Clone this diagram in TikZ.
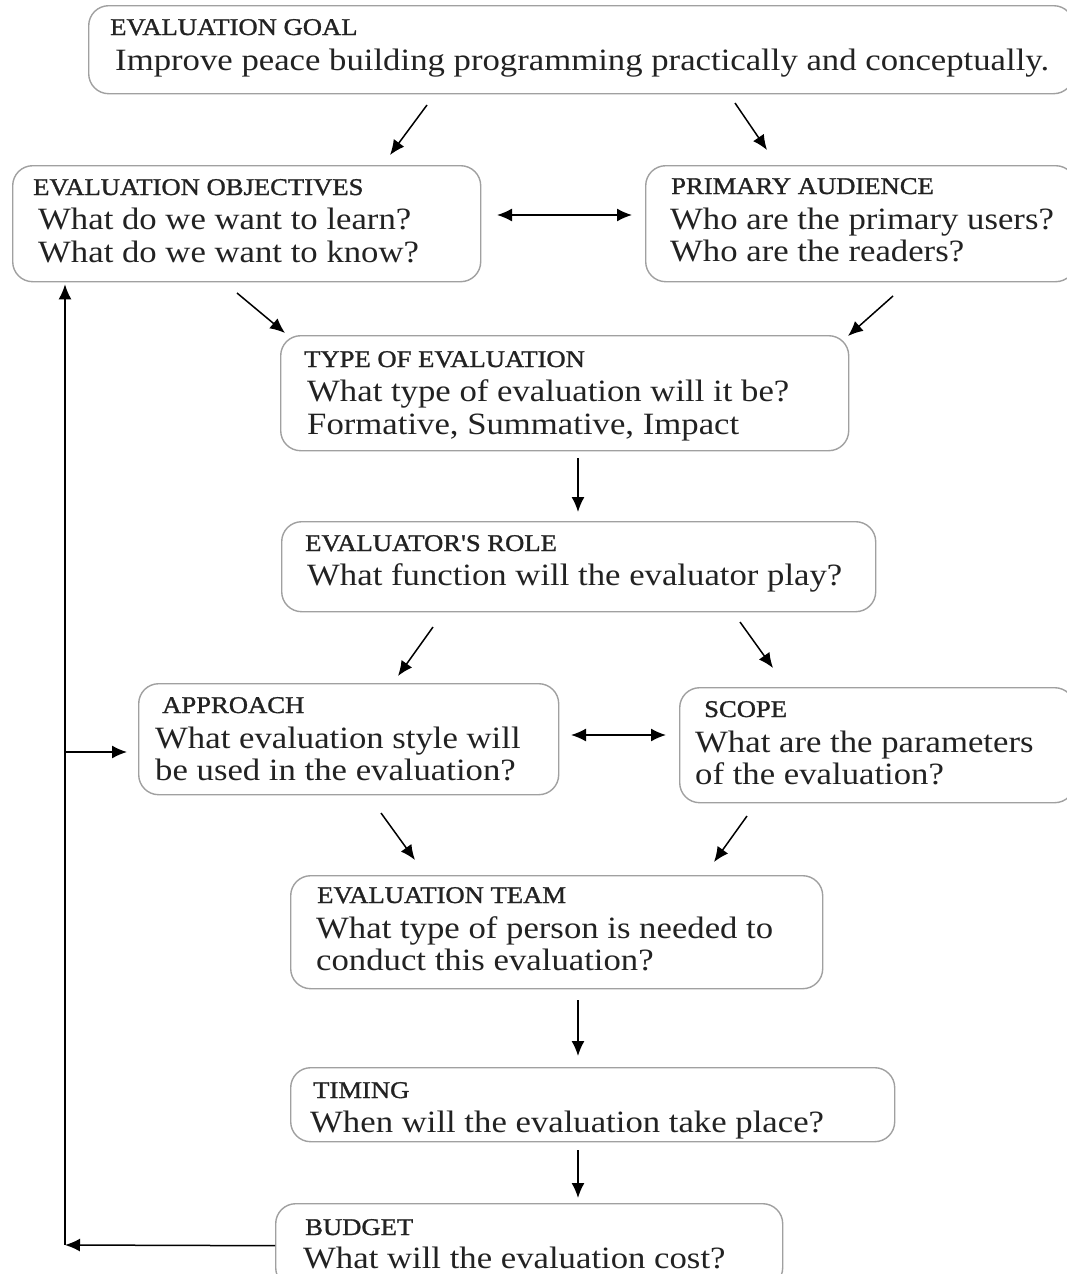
\documentclass[tikz,border=0pt]{standalone}
\usepackage{fontspec}
\setmainfont{Liberation Serif}[FakeStretch=1.12]
\newfontfamily\headfont{Liberation Serif}[FakeStretch=1.11,FakeBold=1.2]
\usetikzlibrary{arrows.meta}
\definecolor{framegray}{HTML}{A0A0A0}
\definecolor{inkgray}{HTML}{222222}
\tikzset{
  box/.style={draw=framegray, line width=1.4pt, rounded corners=20pt,
              anchor=north west, inner sep=0pt, fill=white},
  ttl/.style={anchor=base west, inner sep=0pt, text=inkgray,
              font=\headfont\fontsize{24}{28}\selectfont},
  txt/.style={anchor=base west, inner sep=0pt, text=inkgray,
              font=\fontsize{31}{36}\selectfont},
  arr/.style={line width=1.5pt, -{Latex[length=15pt,width=13pt]}},
  darr/.style={line width=1.5pt, {Latex[length=15pt,width=13pt]}-{Latex[length=15pt,width=13pt]}},
}
\begin{document}
\begin{tikzpicture}[x=1pt,y=-1pt]
\useasboundingbox (0,0) rectangle (1066,1274);

% ---- boxes ----
\node[box, minimum width=985pt, minimum height=88pt]  (goal)   at (88,5)    {};
\node[box, minimum width=468pt, minimum height=116pt] (obj)    at (12,165)  {};
\node[box, minimum width=430pt, minimum height=116pt] (aud)    at (645,165) {};
\node[box, minimum width=568pt, minimum height=115pt] (type)   at (280,335) {};
\node[box, minimum width=594pt, minimum height=90pt]  (role)   at (281,521) {};
\node[box, minimum width=420pt, minimum height=111pt] (app)    at (138,683) {};
\node[box, minimum width=395pt, minimum height=115pt] (scope)  at (679,687) {};
\node[box, minimum width=532pt, minimum height=113pt] (team)   at (290,875) {};
\node[box, minimum width=604pt, minimum height=74pt]  (timing) at (290,1067) {};
\node[box, minimum width=507pt, minimum height=84pt]  (budget) at (275,1203) {};

% ---- texts ----
\node[ttl] (goalT) at (110,35) {EVALUATION GOAL};
\node[txt] (goalA) at (115,70) {Improve peace building programming practically and conceptually.};

\node[ttl] (objT) at (33,195) {EVALUATION OBJECTIVES};
\node[txt] (objA) at (38,229) {What do we want to learn?};
\node[txt] (objB) at (38,262) {What do we want to know?};

\node[ttl] (audT) at (671,194) {PRIMARY AUDIENCE};
\node[txt] (audA) at (670,229) {Who are the primary users?};
\node[txt] (audB) at (670,261) {Who are the readers?};

\node[ttl] (typeT) at (304,367) {TYPE OF EVALUATION};
\node[txt] (typeA) at (307,401) {What type of evaluation will it be?};
\node[txt] (typeB) at (307,434) {Formative, Summative, Impact};

\node[ttl] (roleT) at (305,551) {EVALUATOR'S ROLE};
\node[txt] (roleA) at (307,585) {What function will the evaluator play?};

\node[ttl] (appT) at (162,713) {APPROACH};
\node[txt] (appA) at (155,748) {What evaluation style will};
\node[txt] (appB) at (155,780) {be used in the evaluation?};

\node[ttl] (scopeT) at (704,717) {SCOPE};
\node[txt] (scopeA) at (695,752) {What are the parameters};
\node[txt] (scopeB) at (695,784) {of the evaluation?};

\node[ttl] (teamT) at (317,903) {EVALUATION TEAM};
\node[txt] (teamA) at (316,938) {What type of person is needed to};
\node[txt] (teamB) at (316,970) {conduct this evaluation?};

\node[ttl] (timingT) at (313,1098) {TIMING};
\node[txt] (timingA) at (310,1132) {When will the evaluation take place?};

\node[ttl] (budgetT) at (305,1235) {BUDGET};
\node[txt] (budgetA) at (303,1268) {What will the evaluation cost?};

% ---- arrow end points ----
\coordinate (g1) at (427,105);  \coordinate (o1) at (390,155);
\coordinate (g2) at (735,103);  \coordinate (a1) at (767,150);
\coordinate (oa1) at (497,215); \coordinate (oa2) at (632,215);
\coordinate (o2) at (237,293);  \coordinate (t1) at (285,333);
\coordinate (a2) at (893,296);  \coordinate (t2) at (848,336);
\coordinate (t3) at (578,458);  \coordinate (r1) at (578,512);
\coordinate (r2) at (433,627);  \coordinate (p1) at (398,676);
\coordinate (r3) at (740,622);  \coordinate (s1) at (773,668);
\coordinate (ps1) at (571,735); \coordinate (ps2) at (666,735);
\coordinate (p2) at (381,813);  \coordinate (m1) at (415,860);
\coordinate (s2) at (747,816);  \coordinate (m2) at (714,862);
\coordinate (m3) at (578,1000); \coordinate (i1) at (578,1056);
\coordinate (i2) at (578,1150); \coordinate (b1) at (578,1198);
\coordinate (loopB) at (65,1245);
\coordinate (loopP) at (65,752);
\coordinate (pIn) at (127,752);

% ---- connectors ----
\draw[arr] (g1) -- (o1);
\draw[arr] (g2) -- (a1);
\draw[darr] (oa1) -- (oa2);
\draw[arr] (o2) -- (t1);
\draw[arr] (a2) -- (t2);
\draw[arr] (t3) -- (r1);
\draw[arr] (r2) -- (p1);
\draw[arr] (r3) -- (s1);
\draw[darr] (ps1) -- (ps2);
\draw[arr] (p2) -- (m1);
\draw[arr] (s2) -- (m2);
\draw[arr] (m3) -- (i1);
\draw[arr] (i2) -- (b1);

% feedback loop from the budget back to the objectives and the approach
\draw[arr] (budget.west) -- (loopB);
\draw[arr] (loopB) -- ([yshift=-2pt]loopB |- obj.south);
\draw[arr] (loopP) -- (pIn);
\end{tikzpicture}
\end{document}
